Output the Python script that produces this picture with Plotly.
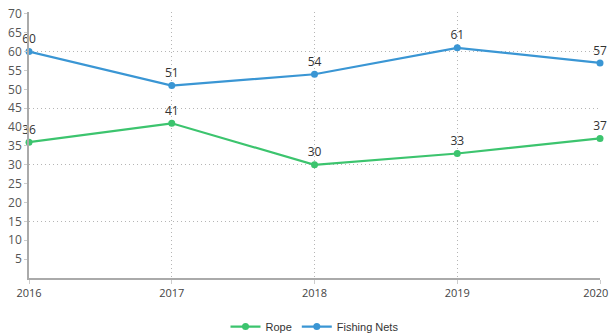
import plotly.graph_objects as go

years = [2016, 2017, 2018, 2019, 2020]
rope = [36, 41, 30, 33, 37]
fishing_nets = [60, 51, 54, 61, 57]
y_ticks = list(range(5, 75, 5))
# last x label padded so it stays inside the window (as in the reference)
x_labels = [str(y) for y in years[:-1]] + [str(years[-1]) + "\u00a0\u00a0\u00a0"]

green = "#3cc46e"
blue = "#3a96d4"

fig = go.Figure()
for name, vals, col in [("Rope", rope, green), ("Fishing Nets", fishing_nets, blue)]:
    fig.add_trace(go.Scatter(
        x=years, y=vals, name=name, mode="lines+markers+text",
        line=dict(color=col, width=2.2),
        marker=dict(color=col, size=7),
        text=[str(v) for v in vals], textposition="top center",
        textfont=dict(family="Open Sans", size=12, color="#333"),
        cliponaxis=False,
    ))

# invisible trace on second y-axis for grid lines every 15
fig.add_trace(go.Scatter(x=[years[0]], y=[0], yaxis="y2", showlegend=False,
                         mode="markers", marker=dict(opacity=0), hoverinfo="skip"))

grid_dash = "1px,3px"
grid_col = "#b5b5b5"
fig.update_layout(
    width=611, height=335,
    margin=dict(l=29, r=11, t=12, b=57, autoexpand=False),
    paper_bgcolor="white", plot_bgcolor="white",
    font=dict(family="Open Sans", size=11, color="#555"),
    xaxis=dict(range=[2016, 2020], tickvals=years, ticktext=x_labels,
               showgrid=True, gridcolor=grid_col, griddash=grid_dash, gridwidth=1,
               showline=True, linecolor="#aaa", linewidth=1.5,
               ticks="outside", ticklen=4, tickcolor="#ccc", automargin=False,
               ticklabeloverflow="allow",
               zeroline=False, tickfont=dict(size=11, color="#444")),
    yaxis=dict(range=[0, 70.5], tickvals=y_ticks, ticktext=[str(v) for v in y_ticks],
               showgrid=False, showline=True, linecolor="#aaa", linewidth=1.5,
               ticks="outside", ticklen=3, tickcolor="#ccc", zeroline=False,
               ticklabeloverflow="allow",
               automargin=False, tickfont=dict(size=12, color="#555")),
    yaxis2=dict(range=[0, 70.5], overlaying="y", dtick=15, tick0=0, automargin=False,
                showgrid=True, gridcolor=grid_col, griddash=grid_dash, gridwidth=1,
                showticklabels=False, zeroline=False, showline=False),
    legend=dict(orientation="h", x=0.5, xanchor="center", y=-0.128, yanchor="top",
                font=dict(family="Liberation Sans", size=11, color="#333")),
    showlegend=True,
)

fig.write_html("out.html", config={"displayModeBar": False},
               post_script="document.body.style.margin='0';document.body.style.overflow='hidden';")
